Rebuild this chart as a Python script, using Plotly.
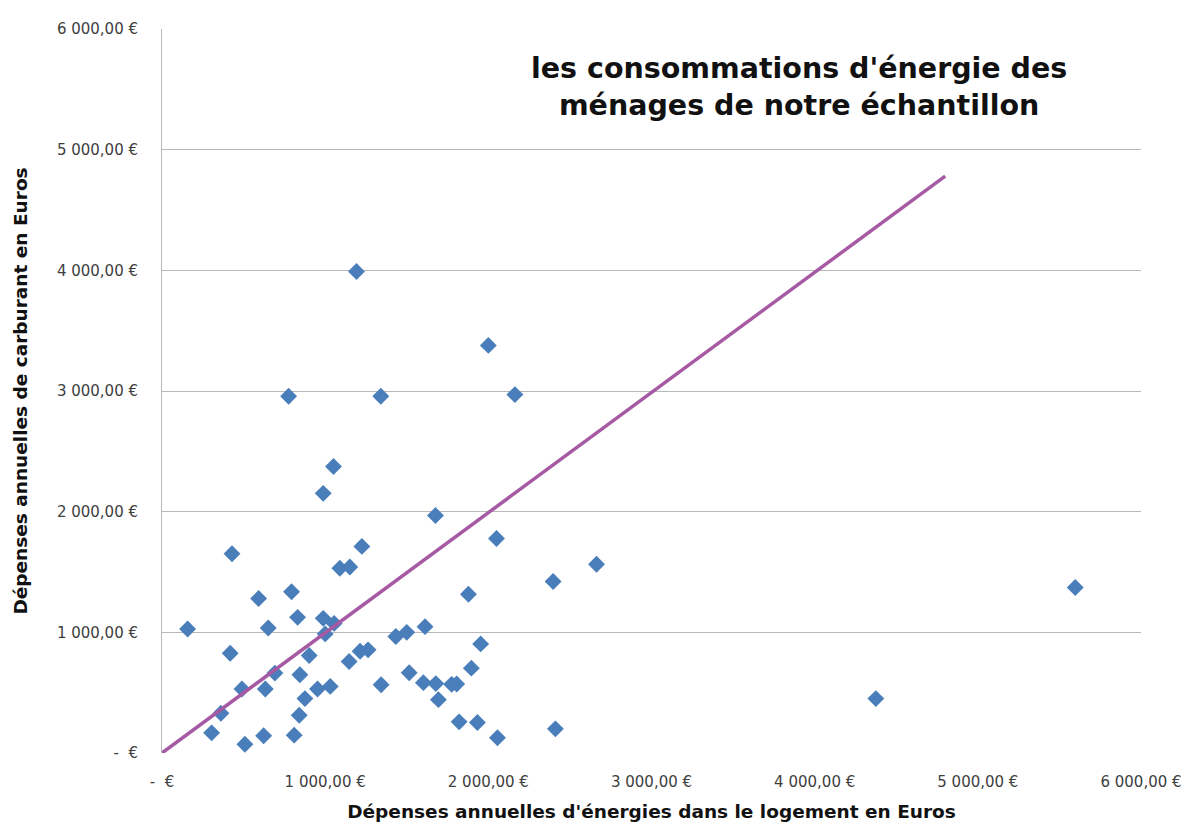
"""Nuage de points : dépenses énergie logement vs carburant."""

import plotly.graph_objects as go

# dépenses annuelles d'énergies dans le logement (€)
logement = [
    157, 304, 361, 418, 429, 490, 508, 592, 623, 633,
    651, 692, 776, 794, 810, 831, 841, 845, 876, 902,
    953, 988, 988, 1000, 1031, 1051, 1055, 1090, 1147, 1151,
    1192, 1214, 1225, 1263, 1341, 1343, 1433, 1500, 1515, 1602,
    1612, 1676, 1678, 1694, 1775, 1806, 1821, 1878, 1896, 1933,
    1953, 2000, 2050, 2056, 2163, 2397, 2411, 2663, 4375, 5597,
]
# dépenses annuelles de carburant (€)
carburant = [
    1028, 167, 330, 827, 1651, 530, 72, 1280, 143, 530,
    1036, 662, 2957, 1336, 148, 1124, 313, 649, 451, 808,
    530, 2152, 1116, 987, 552, 2374, 1074, 1531, 758, 1542,
    3990, 843, 1712, 855, 2957, 566, 965, 1000, 665, 583,
    1047, 1968, 575, 442, 569, 572, 258, 1316, 703, 253,
    904, 3378, 1778, 126, 2970, 1421, 200, 1564, 451, 1371,
]

# droite tracée sur le graphique
droite_x = [0, 4800]
droite_y = [0, 4780]

ticks = [0, 1000, 2000, 3000, 4000, 5000, 6000]
tick_labels = ["-  €", "1 000,00 €", "2 000,00 €", "3 000,00 €",
               "4 000,00 €", "5 000,00 €", "6 000,00 €"]

FONT = "DejaVu Sans"

fig = go.Figure()
fig.add_trace(go.Scatter(
    x=logement, y=carburant, mode="markers",
    marker=dict(symbol="diamond", size=13, color="#4a7ebb"),
    showlegend=False,
))
fig.add_trace(go.Scatter(
    x=droite_x, y=droite_y, mode="lines",
    line=dict(color="#a65aa3", width=3.5),
    showlegend=False,
))

fig.add_annotation(
    x=0.651, y=0.92, xref="paper", yref="paper",
    xanchor="center", yanchor="middle",
    text="<b>les consommations d'énergie des<br>ménages de notre échantillon</b>",
    showarrow=False, align="center",
    font=dict(family=FONT, size=28.5, color="#111111"),
)

fig.update_layout(
    width=1190, height=825,
    # la page ajoute 8 px de marge autour du graphique
    margin=dict(l=153, r=57, t=17, b=80),
    paper_bgcolor="white", plot_bgcolor="white",
    font=dict(family=FONT, color="#404040"),
    xaxis=dict(
        range=[0, 6000], tickvals=ticks, ticktext=tick_labels,
        showgrid=False, zeroline=False, showline=False,
        tickfont=dict(size=15, color="#404040"),
        ticklabelstandoff=18,
        title=dict(text="<b>Dépenses annuelles d'énergies dans le logement en Euros</b>",
                   font=dict(size=18.5, color="#111111"), standoff=15),
    ),
    yaxis=dict(
        range=[0, 6000], tickvals=ticks, ticktext=tick_labels,
        showgrid=True, gridcolor="#b8b8b8", gridwidth=1,
        zeroline=False, showline=True, linecolor="#b8b8b8", linewidth=1,
        tickfont=dict(size=15, color="#404040"),
        ticklabelstandoff=20,
        title=dict(text="<b>Dépenses annuelles de carburant en Euros</b>",
                   font=dict(size=18.5, color="#111111"), standoff=24),
    ),
)

fig.write_html("out.html")
